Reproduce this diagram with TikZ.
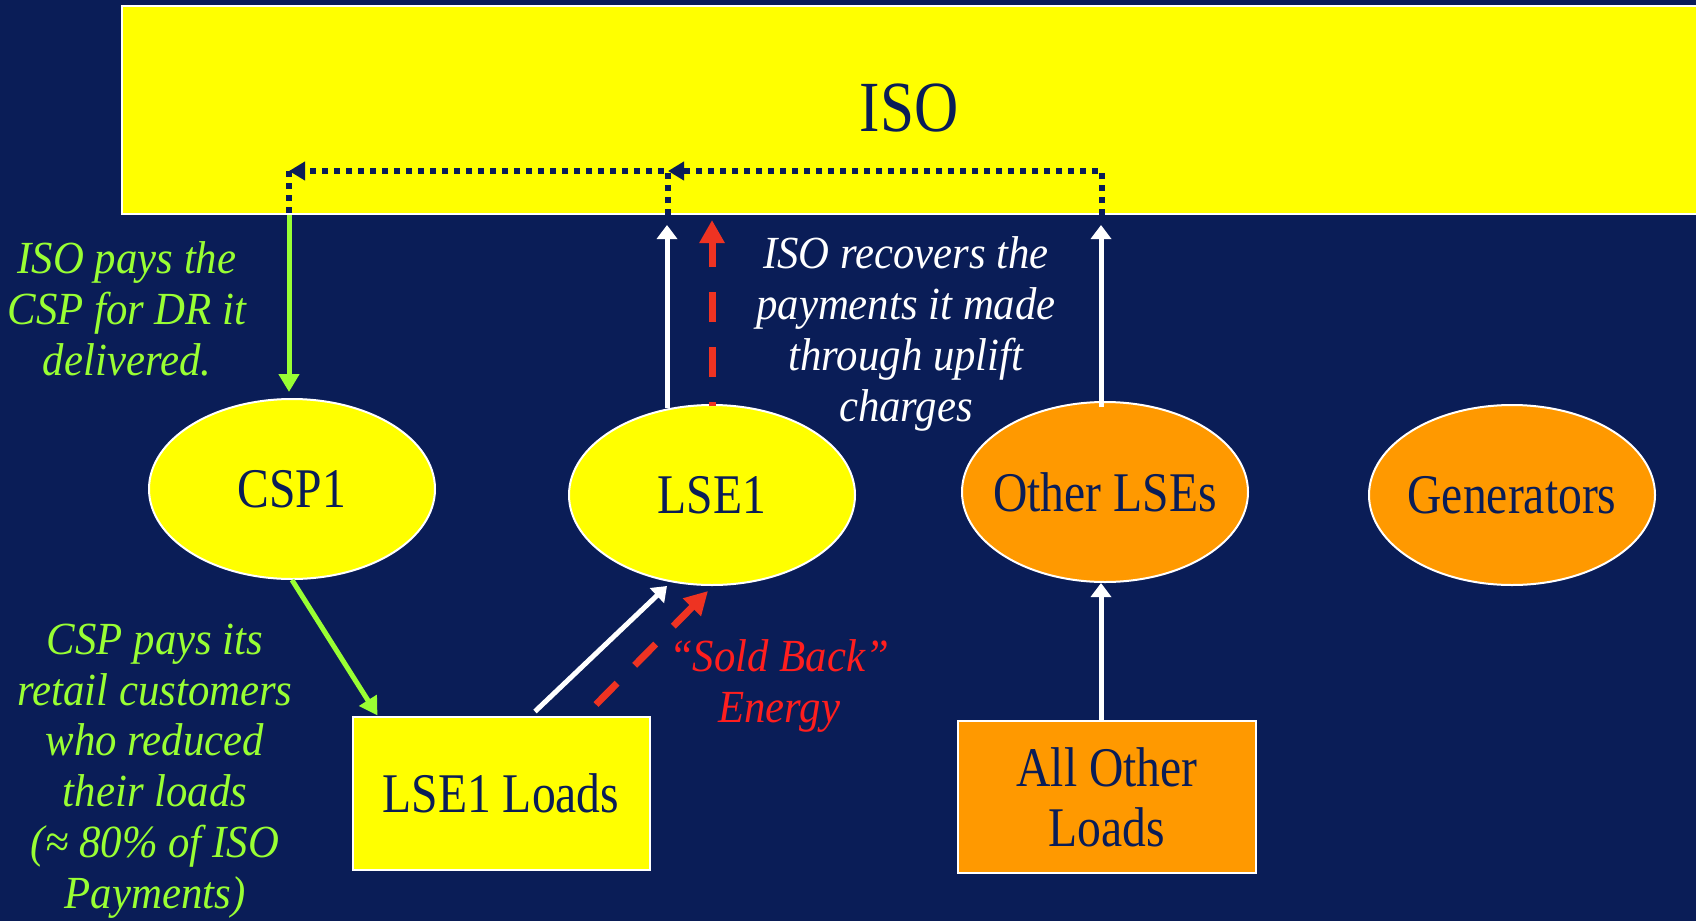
\documentclass[tikz,border=0pt]{standalone}
\usepackage{fontspec}
\setmainfont{Liberation Serif}[FakeStretch=0.85]
\newfontfamily\labfont{Liberation Serif}[FakeStretch=0.93]
\usetikzlibrary{shapes.geometric,arrows.meta,calc}
\definecolor{navy}{RGB}{10,29,87}
\definecolor{isoyellow}{RGB}{255,255,0}
\definecolor{orng}{RGB}{255,153,0}
\definecolor{limeg}{RGB}{153,255,51}
\definecolor{redtxt}{RGB}{255,30,30}
\definecolor{redarr}{RGB}{238,51,34}
\tikzset{
  ell/.style={ellipse, draw=white, line width=1pt, minimum width=143pt, minimum height=90pt, inner sep=0pt, text=navy, font=\fontsize{28}{30}\selectfont},
  boxnode/.style={rectangle, draw=white, line width=1pt, minimum width=148.5pt, minimum height=76.5pt, inner sep=0pt, align=center, text=navy, font=\fontsize{28}{28}\selectfont},
  lab/.style={align=center, inner sep=0pt, font=\labfont\itshape\fontsize{23}{25.4}\selectfont},
  wa/.style={draw=white, line width=2.5pt, -{Triangle[length=7pt,width=10pt]}},
  ga/.style={draw=limeg, line width=2.5pt, -{Triangle[length=9pt,width=10pt]}},
  ra/.style={draw=redarr, line width=3.5pt, dash pattern=on 15pt off 12.5pt, -{Triangle[length=11.5pt,width=12pt]}},
  dotline/.style={draw=navy, line width=3pt, dash pattern=on 3pt off 3pt},
  dottip/.style={-{Triangle[length=8pt,width=9pt]}}
}
\begin{document}
\begin{tikzpicture}[x=0.5pt,y=-0.5pt]
\useasboundingbox (0,0) rectangle (1696,921);
\clip (0,0) rectangle (1696,921);
\fill[navy] (0,0) rectangle (1696,921);

% ISO box
\node[rectangle, draw=white, line width=1pt, fill=isoyellow, minimum width=789pt, minimum height=104pt, inner sep=0pt] (iso) at (911,110) {};
\node[text=navy, font=\fontsize{36}{36}\selectfont, inner sep=0pt] (isotext) at (909,108) {ISO};

% entity nodes
\node[ell, fill=isoyellow] (csp) at (292,489) {\makebox[0pt]{CSP1}};
\node[ell, fill=isoyellow] (lse) at (712,495) {\makebox[0pt]{LSE1}};
\node[ell, fill=orng] (oth) at (1105,492) {\makebox[0pt]{Other LSEs}};
\node[ell, fill=orng] (gen) at (1512,495) {\makebox[0pt]{Generators}};
\node[boxnode, fill=isoyellow] (ll) at (501,793) {LSE1 Loads};
\node[boxnode, fill=orng, minimum width=149pt, minimum height=76pt] (aol) at (1107,797) {All Other\\[2pt]Loads};

% dotted payment paths inside ISO
\coordinate (dR) at (1102,171);
\coordinate (dM) at (668,171);
\coordinate (dL) at (289,171);
\draw[dotline, dottip] (dR |- iso.south) -- (dR) -- (dM);
\draw[dotline, dottip] (dM |- iso.south) -- (dM) -- (dL);
\draw[dotline] (dL) -- (dL |- iso.south);

% arrows
\draw[ga, shorten >=3pt] (dL |- iso.south) -- (dL |- csp.north);
\draw[ga] (csp.south) -- ([xshift=13pt]ll.north west);
\draw[wa] ([xshift=17pt,yshift=2pt]ll.north) -- ([xshift=-22.5pt]lse.south);
\draw[ra, dash phase=0pt] ([xshift=47.5pt,yshift=5.5pt]ll.north) -- ([xshift=-2pt,yshift=-2.5pt]lse.south);
\draw[wa, shorten >=5pt] ([xshift=-22.5pt,yshift=-2pt]lse.north) -- ([xshift=-22.5pt]lse.north |- iso.south);
\draw[ra, dash phase=13pt, shorten >=2.5pt] ([yshift=-1pt]lse.north) -- (lse.north |- iso.south);
\draw[wa, shorten >=5pt] ([xshift=-2pt,yshift=-3pt]oth.north) -- ([xshift=-2pt]oth.north |- iso.south);
\draw[wa] ([xshift=-2pt]aol.north -| oth.south) -- ([xshift=-2pt]oth.south);

% labels
\node[lab, text=limeg] (lab1) at (127,309) {ISO pays the\\CSP for DR it\\delivered.};
\node[lab, text=white] (lab2) at (906,334) {ISO recovers the\\payments it made\\through uplift\\charges};
\node[lab, text=limeg] (lab3) at (155,771) {CSP pays its\\retail customers\\who reduced\\their loads\\(≈ 80\% of ISO\\Payments)};
\node[lab, text=redtxt] (lab4) at (779,686) {“Sold Back”\\Energy};
\end{tikzpicture}
\end{document}
